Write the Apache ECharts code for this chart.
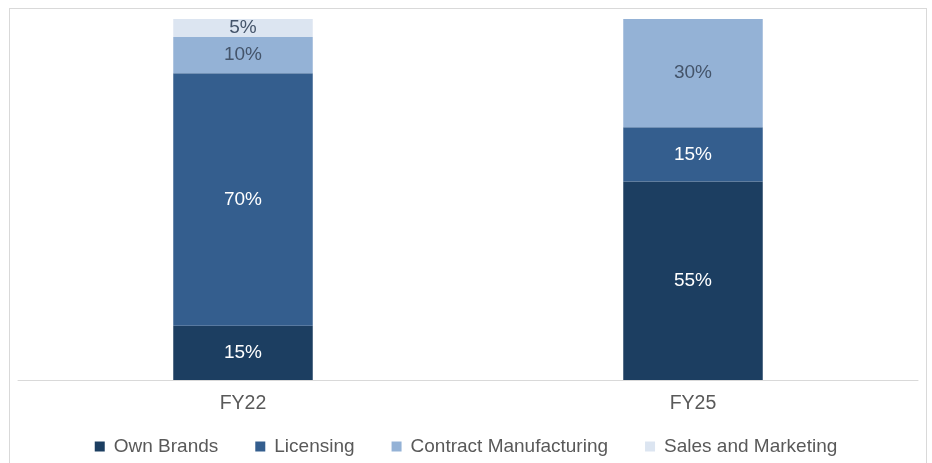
<!DOCTYPE html>
<html>
<head>
<meta charset="utf-8">
<script src="https://cdn.jsdelivr.net/npm/echarts@6/dist/echarts.min.js"></script>
<style>
  html, body { margin: 0; padding: 0; background: #fff; }
  #frame { position: absolute; left: 9px; top: 8px; width: 918px; height: 470px; border: 1px solid #d9d9d9; box-sizing: border-box; }
  #chart { position: absolute; left: 0; top: 0; width: 932px; height: 463px; }
</style>
</head>
<body>
<div id="frame"></div>
<div id="chart"></div>
<script>
// Revenue mix by segment, share of total (%)
const categories = ['FY22', 'FY25'];
const ownBrands = [15, 55];
const licensing = [70, 15];
const contractManufacturing = [10, 30];
const salesMarketing = [5, 0];

const seriesNames = ['Own Brands', 'Licensing', 'Contract Manufacturing', 'Sales and Marketing'];
const seriesData = [ownBrands, licensing, contractManufacturing, salesMarketing];
const colors = ['#1c3e61', '#345e8e', '#94b2d6', '#dce5f1'];
const labelColors = ['#ffffff', '#ffffff', '#44546a', '#44546a'];

const chart = echarts.init(document.getElementById('chart'), null, { renderer: 'canvas' });

chart.setOption({
  animation: false,
  color: colors,
  textStyle: { fontFamily: 'Liberation Sans, Arial, sans-serif' },
  grid: { left: 18, right: 14, top: 19, bottom: 83, containLabel: false },
  legend: {
    top: 432,
    left: 'center',
    itemWidth: 10,
    itemHeight: 10,
    itemGap: 37,
    icon: 'rect',
    textStyle: { color: '#595959', fontSize: 19, padding: [0, 0, 0, 4] },
    data: seriesNames
  },
  xAxis: {
    type: 'category',
    data: categories,
    axisLine: { lineStyle: { color: '#d9d9d9', width: 1 } },
    axisTick: { show: false },
    axisLabel: { color: '#595959', fontSize: 19.5, margin: 14 }
  },
  yAxis: {
    type: 'value',
    min: 0,
    max: 100,
    show: false
  },
  series: seriesData.map((data, i) => ({
    name: seriesNames[i],
    type: 'bar',
    stack: 'mix',
    barWidth: '31%',
    data: data,
    itemStyle: { color: colors[i] },
    label: {
      show: true,
      position: 'inside',
      color: labelColors[i],
      fontSize: 19,
      formatter: p => (p.value > 0 ? p.value + '%' : '')
    }
  }))
});
</script>
</body>
</html>
